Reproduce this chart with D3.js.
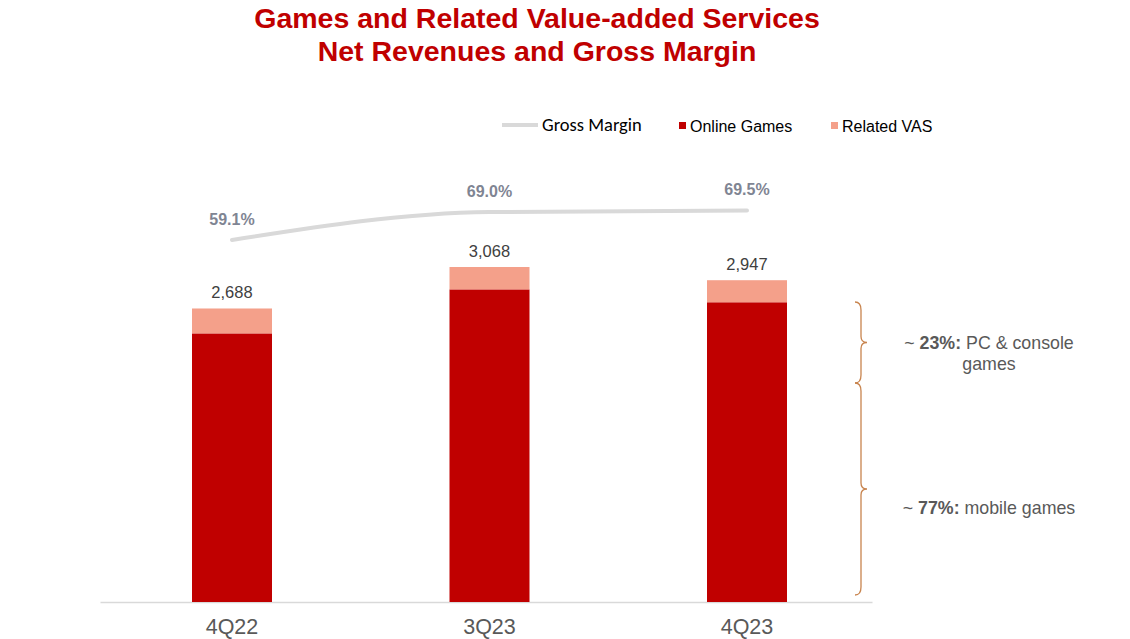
<!DOCTYPE html>
<html><head><meta charset="utf-8">
<script src="https://cdn.jsdelivr.net/npm/d3@7"></script>
<style>body{margin:0;background:#fff}svg{display:block}</style>
</head><body>
<svg id="c" width="1130" height="639"></svg>
<script>
const categories = ["4Q22", "3Q23", "4Q23"];
const onlineGames = [2460, 2863, 2745];
const relatedVAS = [228, 205, 202];
const totals = [2688, 3068, 2947];
const grossMargin = [59.1, 69.0, 69.5];
const marginLabels = ["59.1%", "69.0%", "69.5%"];
const totalLabels = ["2,688", "3,068", "2,947"];

const svg = d3.select("#c");
const font = "Arial, 'Liberation Sans', sans-serif";

// Title
svg.append("text").attr("x", 537).attr("y", 28).attr("text-anchor", "middle")
  .attr("font-family", font).attr("font-weight", "bold").attr("font-size", 28.5)
  .attr("fill", "#c00000").text("Games and Related Value-added Services");
svg.append("text").attr("x", 537).attr("y", 61).attr("text-anchor", "middle")
  .attr("font-family", font).attr("font-weight", "bold").attr("font-size", 28.5)
  .attr("fill", "#c00000").text("Net Revenues and Gross Margin");

const x = d3.scalePoint().domain(categories).range([232, 747]);
const bw = 80;
const y = d3.scaleLinear().domain([0, 3068]).range([602, 267]);

// axis
const axis = svg.append("g").attr("transform", "translate(0,602)")
  .call(d3.axisBottom(d3.scaleLinear().range([100, 872])).ticks(0).tickSize(0).tickFormat(""));
axis.select(".domain").attr("stroke", "#d9d9d9").attr("stroke-width", 1.5);
svg.selectAll(".xl").data(categories).join("text").attr("class", "xl")
  .attr("x", d => x(d)).attr("y", 633.5).attr("text-anchor", "middle")
  .attr("font-family", font).attr("font-size", 21.5).attr("fill", "#595959").text(d => d);

// bars
svg.selectAll(".og").data(categories).join("rect").attr("class", "og")
  .attr("x", d => x(d) - bw / 2).attr("width", bw)
  .attr("y", (d, i) => y(onlineGames[i])).attr("height", (d, i) => y(0) - y(onlineGames[i]))
  .attr("fill", "#c00000");
svg.selectAll(".vas").data(categories).join("rect").attr("class", "vas")
  .attr("x", d => x(d) - bw / 2).attr("width", bw)
  .attr("y", (d, i) => y(onlineGames[i] + relatedVAS[i]))
  .attr("height", (d, i) => y(onlineGames[i]) - y(onlineGames[i] + relatedVAS[i]))
  .attr("fill", "#f4a08a");
svg.selectAll(".tl").data(categories).join("text").attr("class", "tl")
  .attr("x", d => x(d)).attr("y", (d, i) => y(totals[i]) - 10).attr("text-anchor", "middle")
  .attr("font-family", font).attr("font-size", 16.5).attr("fill", "#404040").text((d, i) => totalLabels[i]);

// gross margin line
const ym = d3.scaleLinear().domain([59.1, 69.0]).range([240, 212]);
const line = d3.line().x((d, i) => x(categories[i])).y(d => ym(d)).curve(d3.curveMonotoneX);
svg.append("path").datum(grossMargin).attr("d", line).attr("fill", "none")
  .attr("stroke", "#d9d9d9").attr("stroke-width", 4).attr("stroke-linecap", "round");
svg.selectAll(".ml").data(grossMargin).join("text").attr("class", "ml")
  .attr("x", (d, i) => x(categories[i])).attr("y", d => ym(d) - 15.5).attr("text-anchor", "middle")
  .attr("font-family", font).attr("font-weight", "bold").attr("font-size", 16).attr("fill", "#7f8593")
  .text((d, i) => marginLabels[i]);

// legend
const lg = svg.append("g").attr("font-family", font);
lg.append("line").attr("x1", 502).attr("x2", 538).attr("y1", 125).attr("y2", 125)
  .attr("stroke", "#d9d9d9").attr("stroke-width", 4);
lg.append("text").attr("x", 542).attr("y", 131).attr("font-size", 18.5)
  .attr("font-family", "Carlito, Lato, 'Open Sans', sans-serif").attr("fill", "#000").text("Gross Margin");
lg.append("rect").attr("x", 679).attr("y", 122).attr("width", 7).attr("height", 7).attr("fill", "#c00000");
lg.append("text").attr("x", 690).attr("y", 132).attr("font-size", 16).attr("fill", "#000").text("Online Games");
lg.append("rect").attr("x", 831).attr("y", 122).attr("width", 7).attr("height", 7).attr("fill", "#f4a08a");
lg.append("text").attr("x", 842).attr("y", 132).attr("font-size", 16).attr("fill", "#000").text("Related VAS");

// braces
function brace(y0, y1, xm) {
  const ymid = (y0 + y1) / 2, x0 = xm - 6, x1 = xm, x2 = xm + 6;
  return `M${x0},${y0} Q${x1},${y0} ${x1},${y0 + 8} L${x1},${ymid - 6} Q${x1},${ymid} ${x2},${ymid} ` +
         `Q${x1},${ymid} ${x1},${ymid + 6} L${x1},${y1 - 8} Q${x1},${y1} ${x0},${y1}`;
}
svg.append("path").attr("d", brace(302, 383, 861)).attr("fill", "none").attr("stroke", "#c8844e").attr("stroke-width", 1.3);
svg.append("path").attr("d", brace(383, 595, 861)).attr("fill", "none").attr("stroke", "#c8844e").attr("stroke-width", 1.3);

const t1 = svg.append("text").attr("x", 989).attr("y", 349).attr("text-anchor", "middle")
  .attr("font-family", font).attr("font-size", 17.8).attr("fill", "#595959");
t1.append("tspan").text("~ ");
t1.append("tspan").attr("font-weight", "bold").text("23%:");
t1.append("tspan").text(" PC & console");
svg.append("text").attr("x", 989).attr("y", 370).attr("text-anchor", "middle")
  .attr("font-family", font).attr("font-size", 17.8).attr("fill", "#595959").text("games");
const t2 = svg.append("text").attr("x", 989).attr("y", 514).attr("text-anchor", "middle")
  .attr("font-family", font).attr("font-size", 17.8).attr("fill", "#595959");
t2.append("tspan").text("~ ");
t2.append("tspan").attr("font-weight", "bold").text("77%:");
t2.append("tspan").text(" mobile games");
</script>
</body></html>
